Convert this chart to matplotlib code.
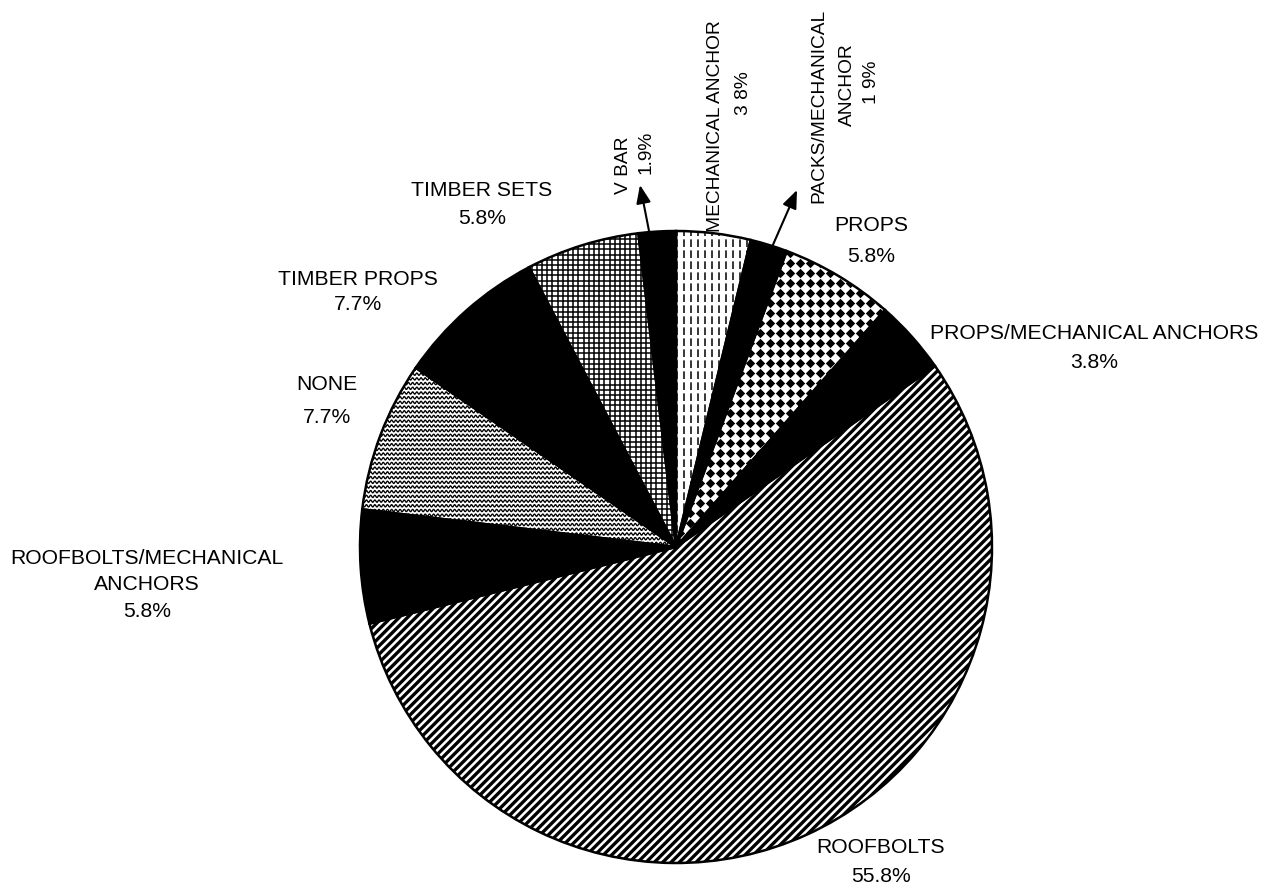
import numpy as np
import matplotlib
matplotlib.use("Agg")
import matplotlib.pyplot as plt
from matplotlib.collections import LineCollection

plt.rcParams['font.family'] = ['Liberation Sans', 'DejaVu Sans']
plt.rcParams['hatch.linewidth'] = 2.4

# 数据
labels = ['MECHANICAL ANCHOR', 'PACKS/MECHANICAL\nANCHOR', 'PROPS',
          'PROPS/MECHANICAL ANCHORS', 'ROOFBOLTS', 'ROOFBOLTS/MECHANICAL\nANCHORS',
          'NONE', 'TIMBER PROPS', 'TIMBER SETS', 'V BAR']
shares = [3.8, 1.9, 5.8, 3.8, 55.8, 5.8, 7.7, 7.7, 5.8, 1.9]
pct_text = ['3 8%', '1 9%', '5.8%', '3.8%', '55.8%', '5.8%', '7.7%', '7.7%', '5.8%', '1.9%']
fills = ['vdash', 'black', 'diamond', 'black', 'diag', 'black', 'wave', 'black', 'grid', 'black']

# 版面 (像素坐标, y 从上往下)
W, H = 1286, 890
CX, CY, R = 676, 547, 316
# 横排标签: 中心位置与行距
label_pos = [None, None, (871, 241), (1094, 348), (881, 862),
             (147, 585), (327, 401), (358, 292), (482, 204), None]
label_ls = [0, 0, 1.75, 1.65, 1.7, 1.5, 1.9, 1.35, 1.6, 0]
# 竖排标签: 每一行单独放
rot_lines = {
    0: [(715, 126), (744, 93)],
    1: [(819, 106), (847, 85), (872, 82)],
    9: [(624, 165), (646, 152)],
}


def fy(y):
    return H - y


fig = plt.figure(figsize=(W / 100, H / 100), dpi=100)
ax = fig.add_axes([0, 0, 1, 1])

face = ['black' if f == 'black' else 'white' for f in fills]
wedges, _ = ax.pie(shares, colors=face, startangle=90, counterclock=False,
                   center=(CX, fy(CY)), radius=R,
                   wedgeprops=dict(edgecolor='black', linewidth=0, zorder=1))

x0, x1 = CX - R, CX + R
y0, y1 = fy(CY) - R, fy(CY) + R

for w, f in zip(wedges, fills):
    if f == 'diag':
        w.set_hatch('////')
    elif f == 'grid':
        xs = np.arange(x0, x1, 5.2)
        ys = np.arange(y0, y1, 5.2)
        segs = [[(x, y0), (x, y1)] for x in xs] + [[(x0, y), (x1, y)] for y in ys]
        lc = LineCollection(segs, colors='black', linewidths=1.1, zorder=2)
        ax.add_collection(lc)
        lc.set_clip_path(w)
    elif f == 'vdash':
        xs = np.arange(x0 + 2, x1, 7.0)
        segs = [[(x, y0), (x, y1)] for x in xs]
        lc = LineCollection(segs, colors='black', linewidths=1.1,
                            linestyles=[(0, (5.0, 2.2))], zorder=2)
        ax.add_collection(lc)
        lc.set_clip_path(w)
    elif f == 'wave':
        xx = np.arange(x0, x1, 0.5)
        segs = []
        for y in np.arange(y0, y1, 4.7):
            yy = y + 1.2 * np.sin(2 * np.pi * xx / 4.2)
            segs.append(np.column_stack([xx, yy]))
        lc = LineCollection(segs, colors='black', linewidths=0.95, zorder=2)
        ax.add_collection(lc)
        lc.set_clip_path(w)
    elif f == 'diamond':
        gx, gy = np.meshgrid(np.arange(x0, x1, 10.0), np.arange(y0, y1, 10.0))
        sc = ax.scatter(gx.ravel(), gy.ravel(), marker='D', s=23, c='black',
                        linewidths=0, zorder=2)
        sc.set_clip_path(w)

# 轮廓
ax.pie(shares, colors=['none'] * len(shares), startangle=90, counterclock=False,
       center=(CX, fy(CY)), radius=R,
       wedgeprops=dict(edgecolor='black', linewidth=1.8, fill=False, zorder=3))

for i, (lab, pct) in enumerate(zip(labels, pct_text)):
    if i in rot_lines:
        for line, (lx, ly) in zip(lab.split('\n') + [pct], rot_lines[i]):
            ax.text(lx, fy(ly), line, ha='center', va='center', rotation=90,
                    fontsize=13.8, zorder=4)
    else:
        lx, ly = label_pos[i]
        ax.text(lx, fy(ly), lab + '\n' + pct, ha='center', va='center',
                multialignment='center', fontsize=15.2, linespacing=label_ls[i],
                zorder=4)

arrow = dict(arrowstyle='-|>,head_length=1.0,head_width=0.4', color='black', lw=1.5,
             mutation_scale=11, shrinkA=0, shrinkB=0)
ax.annotate('', xy=(640, fy(185)), xytext=(650, fy(236)), arrowprops=arrow)
ax.annotate('', xy=(797, fy(190)), xytext=(772, fy(247)), arrowprops=arrow)

ax.set_xlim(0, W)
ax.set_ylim(0, H)
ax.set_aspect('auto')
ax.axis('off')

fig.savefig('out.png', dpi=100, facecolor='white')
